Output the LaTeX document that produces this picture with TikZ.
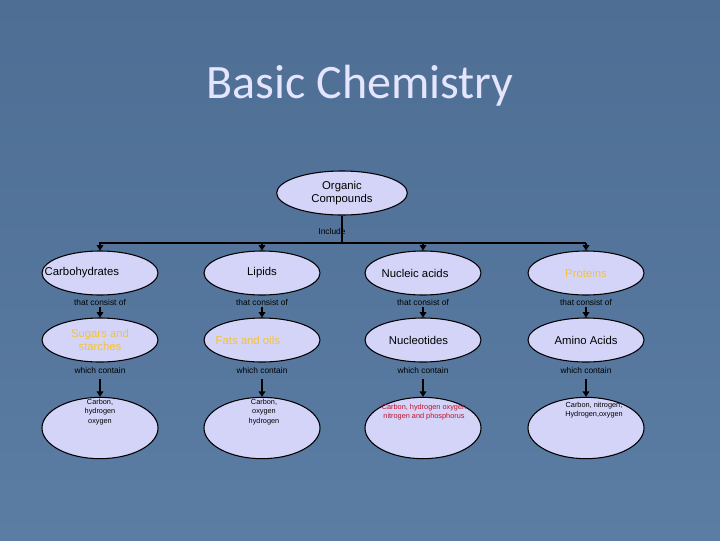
\documentclass[tikz,border=0pt]{standalone}
\usepackage{fontspec}
\setmainfont{Liberation Sans}
\newfontfamily\titlefont{Carlito}
\usetikzlibrary{shapes.geometric,arrows.meta}
\definecolor{bgA}{HTML}{4E6E94}
\definecolor{bgB}{HTML}{5B7CA3}
\definecolor{ell}{HTML}{D4D4F8}
\definecolor{yel}{HTML}{F2C23A}
\definecolor{redt}{HTML}{C0102A}
\tikzset{
  x=0.75pt,y=-0.75pt,
  ov/.style={ellipse,draw=black,thick,fill=ell,minimum width=87pt,minimum height=33pt,inner sep=0pt,font=\fontsize{8.5}{10}\selectfont,align=center},
  big/.style={ov,minimum height=46pt},
  lab/.style={font=\fontsize{6.3}{7}\selectfont,text=black,inner sep=1pt},
  arr/.style={-{Triangle[width=5pt,length=4pt]},thick},
  inner/.style={font=\fontsize{5.5}{7}\selectfont,align=center,inner sep=0pt}
}
\begin{document}
\begin{tikzpicture}
\shade[top color=bgA,bottom color=bgB] (0,0) rectangle (720,540);
\useasboundingbox (0,0) rectangle (720,540);
\node[text=white!90!blue,font=\titlefont\fontsize{36}{40}\selectfont] (title) at (360,86) {Basic Chemistry};
\node[ov,minimum width=98pt] (org) at (342,193) {Organic\\Compounds};
\coordinate (bus) at (342,243);
\node[lab] (inc) at (332,231) {Include};
\draw[thick] (org.south) -- (bus);
\coordinate (b1) at (99,243);
\coordinate (b4) at (586,243);
\draw[thick] (b1) -- (b4);
% row 1
\node[ov] (c1) at (100,273) {\hspace*{-3.2em}Carbohydrates};
\node[ov] (c2) at (262,273) {Lipids};
\node[ov] (c3) at (423,273) {\hspace*{-1.4em}Nucleic acids};
\node[ov,text=yel] (c4) at (586,273) {Proteins};
\foreach \i/\x in {1/100,2/262,3/423,4/586}{
  \coordinate (t\i) at (\x,243);
}
\foreach \i in {1,2,3,4}{\draw[arr] (t\i) -- (c\i.north);}
% row 2
\node[ov,text=yel] (d1) at (100,340) {Sugars and\\starches};
\node[ov,text=yel] (d2) at (262,340) {\hspace*{-2.5em}Fats and oils};
\node[ov] (d3) at (423,340) {\hspace*{-0.8em}Nucleotides};
\node[ov] (d4) at (586,340) {Amino Acids};
\foreach \i/\x in {1/100,2/262,3/423,4/586}{
  \node[lab] (s\i) at (\x,302) {that consist of};
  \draw[arr] (s\i.south) -- (d\i.north);
}
% row 3
\node[big] (e1) at (100,428) {};
\node[big] (e2) at (262,428) {};
\node[big] (e3) at (423,428) {};
\node[big] (e4) at (586,428) {};
\node[inner] (x1) at (100,412) {Carbon,\\hydrogen\\oxygen};
\node[inner] (x2) at (264,412) {Carbon,\\oxygen\\hydrogen};
\node[inner,text=redt] (x3) at (424,412) {Carbon, hydrogen oxygen\\nitrogen and phosphorus};
\node[inner] (x4) at (594,410) {Carbon, nitrogen,\\Hydrogen,oxygen};
\foreach \i/\x in {1/100,2/262,3/423,4/586}{
  \node[lab] (w\i) at (\x,370) {which contain};
  \coordinate (a\i) at (\x,379);
  \draw[arr] (a\i) -- (e\i.north);
}
\end{tikzpicture}
\end{document}
